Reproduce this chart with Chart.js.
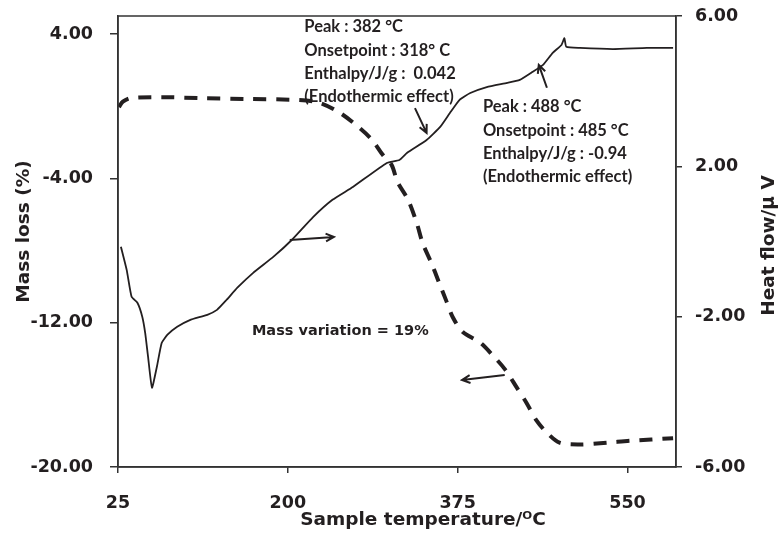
<!DOCTYPE html>
<html>
<head>
<meta charset="utf-8">
<script src="https://cdn.jsdelivr.net/npm/chart.js@4.4.0/dist/chart.umd.min.js"></script>
<style>
html, body { margin: 0; padding: 0; background: #fff; }
#wrap { width: 778px; height: 535px; }
</style>
</head>
<body>
<div id="wrap"><canvas id="tgaChart" width="778" height="535"></canvas></div>
<script>
// TGA mass loss (dashed, left axis)
var massTemp = [26, 30, 38, 70, 110, 160, 212, 233, 254, 274, 287, 298, 307, 313, 324, 333, 339, 348, 356, 363, 370, 380, 398, 411, 424, 436, 446, 456, 467, 480, 501, 529, 552, 597];
var massLoss = [-0.05, 0.25, 0.45, 0.5, 0.45, 0.4, 0.34, 0.18, -0.38, -1.21, -1.88, -2.71, -3.26, -4.2, -5.2, -6.5, -7.6, -8.7, -9.8, -10.75, -11.7, -12.5, -13.1, -13.8, -14.6, -15.6, -16.45, -17.4, -18.1, -18.65, -18.75, -18.65, -18.55, -18.4];

// DTA heat flow (solid, right axis)
var heatTemp = [28, 34, 39, 45, 50, 53, 56, 60, 65, 70, 76, 86, 99, 117, 127, 137, 148, 164, 185, 204, 226, 246, 267, 302, 315, 323, 343, 357, 367, 377, 388, 405, 426, 439, 452, 463, 473, 482, 485, 487, 501, 535, 570, 597];
var heatFlow = [-0.14, -0.76, -1.47, -1.63, -2.0, -2.43, -3.07, -3.89, -3.34, -2.7, -2.48, -2.27, -2.09, -1.95, -1.82, -1.55, -1.23, -0.84, -0.41, 0.04, 0.65, 1.11, 1.45, 2.09, 2.17, 2.36, 2.7, 3.05, 3.42, 3.77, 3.95, 4.11, 4.22, 4.3, 4.51, 4.7, 5.02, 5.23, 5.41, 5.18, 5.15, 5.12, 5.15, 5.15];

var xTicks = [25, 200, 375, 550];
var massTicks = [-20, -12, -4, 4];
var heatTicks = [-6, -2, 2, 6];

var peakNotes = [
    { lines: ['Peak : 382 \u00B0C', 'Onsetpoint : 318\u00B0 C', 'Enthalpy/J/g :  0.042', '(Endothermic effect)'], t: 217, h: 5.71 },
    { lines: ['Peak : 488 \u00B0C', 'Onsetpoint : 485 \u00B0C', 'Enthalpy/J/g : -0.94', '(Endothermic effect)'], t: 401, h: 3.58 }
];
var arrows = [
    { axis: 'yHeat', from: [331, 3.55], to: [343, 2.89] },
    { axis: 'yHeat', from: [467, 4.09], to: [458.6, 4.70] },
    { axis: 'yHeat', from: [202, 0.04], to: [247.5, 0.12] },
    { axis: 'yMass', from: [423.5, -14.9], to: [379.5, -15.18] }
];
var massNote = { text: 'Mass variation = 19%', t: 163, m: -12.46 };

var xTitle = 'Sample temperature/\u1D3CC';
var massTitle = 'Mass loss (%)';
var heatTitle = 'Heat flow/\u03BC V';

function toPoints(xs, ys) {
    return xs.map(function(x, i) { return { x: x, y: ys[i] }; });
}

function fixedTicks(values) {
    return function(scale) {
        scale.ticks = values.map(function(v) { return { value: v }; });
    };
}

// fixed box sizes so the plot area lands where the original has it
function fixBox(w, h) {
    return function(scale) {
        if (w) scale.width = w;
        if (h) scale.height = h;
        scale.paddingTop = 0;
        scale.paddingBottom = 0;
        scale.paddingLeft = 0;
        scale.paddingRight = 0;
    };
}

var ink = '#231f20';

var notesPlugin = {
    id: 'tgaNotes',
    afterDatasetsDraw: function(chart) {
        var ctx = chart.ctx, a = chart.chartArea;
        var xs = chart.scales.x;
        var midY = (a.top + a.bottom) / 2;
        ctx.save();
        ctx.strokeStyle = '#333';
        ctx.lineWidth = 1.5;
        ctx.strokeRect(a.left, a.top, a.right - a.left, a.bottom - a.top);

        ctx.fillStyle = ink;
        ctx.textBaseline = 'middle';
        ctx.textAlign = 'center';
        // axis titles (both vertical ones read bottom-to-top)
        ctx.font = 'bold 18.5px "DejaVu Sans"';
        ctx.fillText(xTitle, (a.left + a.right) / 2 + 26, 520);
        ctx.save();
        ctx.translate(24, midY - 10);
        ctx.rotate(-Math.PI / 2);
        ctx.fillText(massTitle, 0, 0);
        ctx.restore();
        ctx.save();
        ctx.translate(769, midY + 4);
        ctx.rotate(-Math.PI / 2);
        ctx.fillText(heatTitle, 0, 0);
        ctx.restore();

        ctx.textAlign = 'left';
        ctx.font = 'bold 16.5px Lato';
        peakNotes.forEach(function(n) {
            var x = xs.getPixelForValue(n.t);
            var y = chart.scales.yHeat.getPixelForValue(n.h);
            n.lines.forEach(function(line, i) {
                ctx.fillText(line, x, y + i * 23.3);
            });
        });

        ctx.font = 'bold 14.5px "DejaVu Sans"';
        ctx.fillText(massNote.text, xs.getPixelForValue(massNote.t), chart.scales.yMass.getPixelForValue(massNote.m));

        ctx.strokeStyle = ink;
        ctx.lineWidth = 2;
        arrows.forEach(function(ar) {
            var ys = chart.scales[ar.axis];
            var x0 = xs.getPixelForValue(ar.from[0]), y0 = ys.getPixelForValue(ar.from[1]);
            var x1 = xs.getPixelForValue(ar.to[0]), y1 = ys.getPixelForValue(ar.to[1]);
            var ang = Math.atan2(y1 - y0, x1 - x0);
            ctx.beginPath();
            ctx.moveTo(x0, y0);
            ctx.lineTo(x1, y1);
            ctx.moveTo(x1 - 9 * Math.cos(ang - 0.45), y1 - 9 * Math.sin(ang - 0.45));
            ctx.lineTo(x1, y1);
            ctx.lineTo(x1 - 9 * Math.cos(ang + 0.45), y1 - 9 * Math.sin(ang + 0.45));
            ctx.stroke();
        });
        ctx.restore();
    }
};

var tickFont = { family: 'DejaVu Sans', size: 17.5, weight: 'bold' };

var ctx = document.getElementById('tgaChart').getContext('2d');
var chart = new Chart(ctx, {
    type: 'line',
    data: {
        datasets: [{
            label: 'Mass loss',
            data: toPoints(massTemp, massLoss),
            yAxisID: 'yMass',
            borderColor: ink,
            borderWidth: 4,
            borderDash: [13, 10],
            pointRadius: 0,
            tension: 0.3,
            fill: false
        }, {
            label: 'Heat flow',
            data: toPoints(heatTemp, heatFlow),
            yAxisID: 'yHeat',
            borderColor: ink,
            borderWidth: 1.8,
            pointRadius: 0,
            tension: 0.15,
            fill: false
        }]
    },
    options: {
        responsive: false,
        animation: false,
        devicePixelRatio: 1,
        layout: { padding: { top: 16, left: 0, right: 0, bottom: 0 } },
        plugins: {
            legend: { display: false },
            tooltip: { enabled: false }
        },
        scales: {
            x: {
                type: 'linear',
                min: 25,
                max: 600,
                afterBuildTicks: fixedTicks(xTicks),
                afterFit: fixBox(0, 68),
                grid: { drawOnChartArea: false, tickLength: 6, color: '#333', lineWidth: 1.5 },
                border: { color: '#333', width: 1.5 },
                ticks: { font: tickFont, color: ink, padding: 20, maxRotation: 0 }
            },
            yMass: {
                type: 'linear',
                position: 'left',
                min: -20,
                max: 5,
                afterBuildTicks: fixedTicks(massTicks),
                afterFit: fixBox(118, 0),
                grid: { drawOnChartArea: false, tickLength: 8, color: '#333', lineWidth: 1.5 },
                border: { color: '#333', width: 1.5 },
                ticks: {
                    font: tickFont, color: ink, padding: 17,
                    callback: function(v) { return v.toFixed(2); }
                }
            },
            yHeat: {
                type: 'linear',
                position: 'right',
                min: -6,
                max: 6,
                afterBuildTicks: fixedTicks(heatTicks),
                afterFit: fixBox(102, 0),
                grid: { drawOnChartArea: false, tickLength: 6, color: '#333', lineWidth: 1.5 },
                border: { color: '#333', width: 1.5 },
                ticks: {
                    font: tickFont, color: ink, padding: 13,
                    callback: function(v) { return v.toFixed(2); }
                }
            }
        }
    },
    plugins: [notesPlugin]
});
</script>
</body>
</html>
